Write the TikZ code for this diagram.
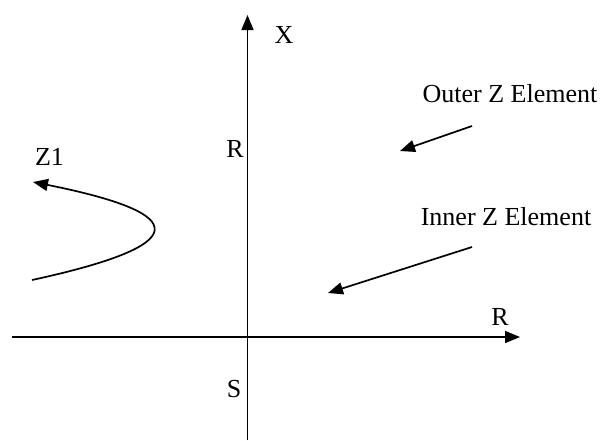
\documentclass[tikz,border=0pt]{standalone}
\usepackage{fontspec}
\setmainfont{Liberation Serif}
\usetikzlibrary{arrows.meta}
\begin{document}
\begin{tikzpicture}[x=1pt,y=-1pt,
  lbl/.style={anchor=base,inner sep=0pt,font=\fontsize{26}{30}\selectfont},
  axis/.style={line width=1.7pt,-{Triangle[length=15pt,width=12pt]}},
  pointer/.style={line width=1.7pt,-{Triangle[length=15pt,width=12pt]}}]
\useasboundingbox (0,0) rectangle (601,440);
% axes
\coordinate (vb) at (247.5,440);
\coordinate (vt) at (247.5,15);
\coordinate (hl) at (12,337);
\coordinate (hr) at (520,337);
\draw[axis] (vb) -- (vt);
\draw[axis] (hl) -- (hr);
% labels
\node[lbl] (x) at (284,43) {X};
\node[lbl] (rv) at (235,157) {R};
\node[lbl] (s) at (234,397) {S};
\node[lbl] (rh) at (500,325) {R};
\node[lbl] (z1) at (49.5,165) {Z1};
\node[lbl] (outer) at (510,102) {Outer Z Element};
\node[lbl] (inner) at (506,225) {Inner Z Element};
% Z1 curve
\coordinate (zs) at (32,280);
\coordinate (ze) at (33,182);
\draw[pointer] (zs) .. controls (193,245) and (193,214) .. (ze);
% element pointers
\coordinate (os) at (472,126);
\coordinate (oe) at (400,151);
\draw[pointer] (os) -- (oe);
\coordinate (is) at (472,247);
\coordinate (ie) at (328,293);
\draw[pointer] (is) -- (ie);
\end{tikzpicture}
\end{document}
